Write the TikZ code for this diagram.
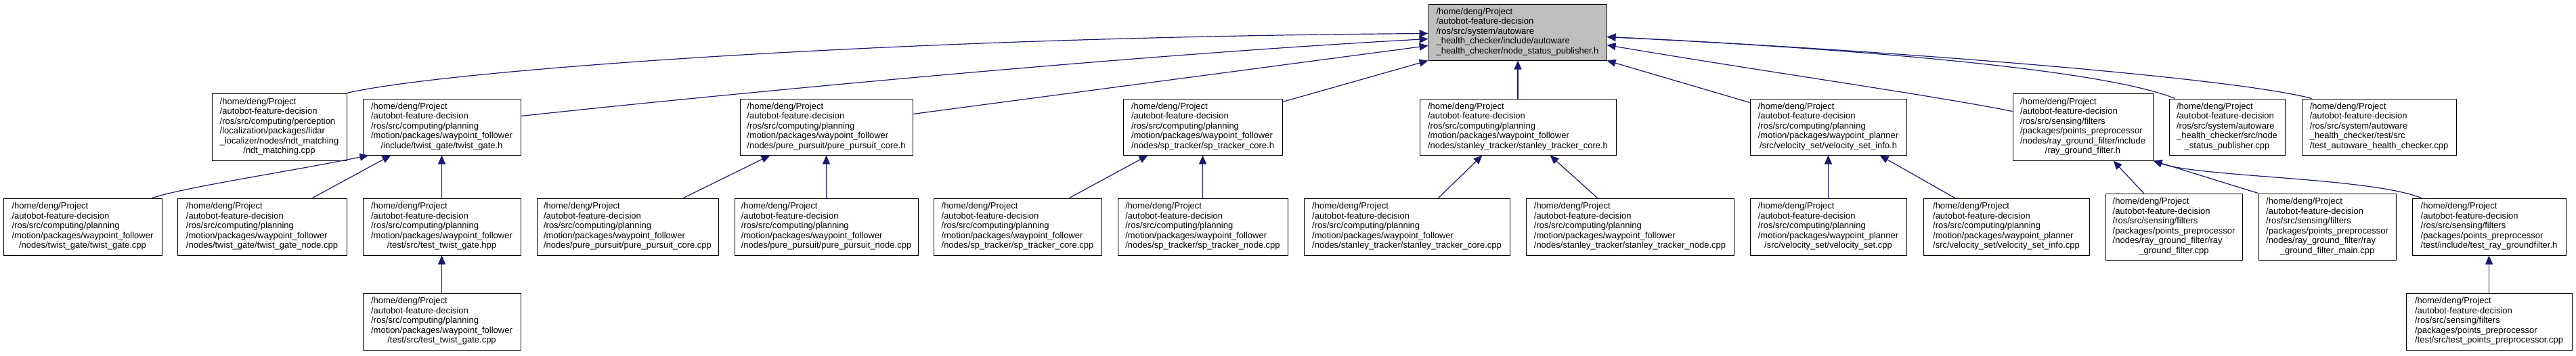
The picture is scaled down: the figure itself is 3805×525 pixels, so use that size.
\documentclass[tikz,border=0pt]{standalone}
\usepackage{fontspec}
\setmainfont{Liberation Sans}
\usetikzlibrary{arrows.meta,calc}
\definecolor{edgeblue}{RGB}{25,25,112}
\definecolor{rootgray}{RGB}{191,191,191}
\newcommand{\dl}[2]{\begin{tabular}{@{}l@{}}#1\\\multicolumn{1}{@{}c@{}}{#2}\end{tabular}}
\newcommand{\pwf}{/home/deng/Project\\/autobot-feature-decision\\/ros/src/computing/planning\\/motion/packages/waypoint\_follower}
\newcommand{\pwp}{/home/deng/Project\\/autobot-feature-decision\\/ros/src/computing/planning\\/motion/packages/waypoint\_planner}
\newcommand{\psf}{/home/deng/Project\\/autobot-feature-decision\\/ros/src/sensing/filters\\/packages/points\_preprocessor}
\newcommand{\psy}{/home/deng/Project\\/autobot-feature-decision\\/ros/src/system/autoware}
\begin{document}
\begin{tikzpicture}[x=1pt,y=-1pt,
  box/.style={draw=black, fill=white, line width=1pt, inner sep=0pt,
    font=\fontsize{13}{14.5}\selectfont},
  edge/.style={draw=edgeblue, line width=1.2pt, -{Triangle[length=13pt,width=11pt]}, edgeblue}]
\useasboundingbox (0,0) rectangle (3805,525);
% root
\node[box,fill=rootgray,minimum width=263pt,minimum height=83pt] (R) at (2241.5,47.5)
  {\dl{\psy\\\_health\_checker/include/autoware}{\_health\_checker/node\_status\_publisher.h}};
% level 2
\node[box,minimum width=199pt,minimum height=99pt] (A) at (412.5,187.5)
  {\dl{/home/deng/Project\\/autobot-feature-decision\\/ros/src/computing/perception\\/localization/packages/lidar\\\_localizer/nodes/ndt\_matching}{/ndt\_matching.cpp}};
\node[box,minimum width=233pt,minimum height=83pt] (B) at (652.5,187.5)
  {\dl{\pwf}{/include/twist\_gate/twist\_gate.h}};
\node[box,minimum width=255pt,minimum height=83pt] (C) at (1220.5,187.5)
  {\dl{\pwf}{/nodes/pure\_pursuit/pure\_pursuit\_core.h}};
\node[box,minimum width=235pt,minimum height=83pt] (D) at (1776.5,187.5)
  {\dl{\pwf}{/nodes/sp\_tracker/sp\_tracker\_core.h}};
\node[box,minimum width=290pt,minimum height=83pt] (E) at (2242,187.5)
  {\dl{\pwf}{/nodes/stanley\_tracker/stanley\_tracker\_core.h}};
\node[box,minimum width=231pt,minimum height=83pt] (F) at (2700.5,187.5)
  {\dl{\pwp}{/src/velocity\_set/velocity\_set\_info.h}};
\node[box,minimum width=207pt,minimum height=99pt] (G) at (3076.5,187.5)
  {\dl{\psf\\/nodes/ray\_ground\_filter/include}{/ray\_ground\_filter.h}};
\node[box,minimum width=171pt,minimum height=83pt] (H) at (3289.5,187.5)
  {\dl{\psy\\\_health\_checker/src/node}{\_status\_publisher.cpp}};
\node[box,minimum width=228pt,minimum height=83pt] (I) at (3514,187.5)
  {\dl{\psy\\\_health\_checker/test/src}{/test\_autoware\_health\_checker.cpp}};
% level 3
\node[box,minimum width=234pt,minimum height=84pt] (B1) at (122,335)
  {\dl{\pwf}{/nodes/twist\_gate/twist\_gate.cpp}};
\node[box,minimum width=250pt,minimum height=84pt] (B2) at (387,335)
  {\dl{\pwf}{/nodes/twist\_gate/twist\_gate\_node.cpp}};
\node[box,minimum width=233pt,minimum height=84pt] (B3) at (652.5,335)
  {\dl{\pwf}{/test/src/test\_twist\_gate.hpp}};
\node[box,minimum width=268pt,minimum height=84pt] (C1) at (927,335)
  {\dl{\pwf}{/nodes/pure\_pursuit/pure\_pursuit\_core.cpp}};
\node[box,minimum width=271pt,minimum height=84pt] (C2) at (1220.5,335)
  {\dl{\pwf}{/nodes/pure\_pursuit/pure\_pursuit\_node.cpp}};
\node[box,minimum width=248pt,minimum height=84pt] (D1) at (1503,335)
  {\dl{\pwf}{/nodes/sp\_tracker/sp\_tracker\_core.cpp}};
\node[box,minimum width=251pt,minimum height=84pt] (D2) at (1776.5,335)
  {\dl{\pwf}{/nodes/sp\_tracker/sp\_tracker\_node.cpp}};
\node[box,minimum width=304pt,minimum height=84pt] (E1) at (2078,335)
  {\dl{\pwf}{/nodes/stanley\_tracker/stanley\_tracker\_core.cpp}};
\node[box,minimum width=307pt,minimum height=84pt] (E2) at (2407.5,335)
  {\dl{\pwf}{/nodes/stanley\_tracker/stanley\_tracker\_node.cpp}};
\node[box,minimum width=231pt,minimum height=84pt] (F1) at (2700.5,335)
  {\dl{\pwp}{/src/velocity\_set/velocity\_set.cpp}};
\node[box,minimum width=245pt,minimum height=84pt] (F2) at (2963.5,335)
  {\dl{\pwp}{/src/velocity\_set/velocity\_set\_info.cpp}};
\node[box,minimum width=202pt,minimum height=98pt] (G1) at (3211,335)
  {\dl{\psf\\/nodes/ray\_ground\_filter/ray}{\_ground\_filter.cpp}};
\node[box,minimum width=203pt,minimum height=98pt] (G2) at (3437.5,335)
  {\dl{\psf\\/nodes/ray\_ground\_filter/ray}{\_ground\_filter\_main.cpp}};
\node[box,minimum width=227pt,minimum height=84pt] (G3) at (3676.5,335)
  {\dl{\psf}{/test/include/test\_ray\_groundfilter.h}};
% level 4
\node[box,minimum width=233pt,minimum height=84pt] (B4) at (652.5,475)
  {\dl{\pwf}{/test/src/test\_twist\_gate.cpp}};
\node[box,minimum width=245pt,minimum height=84pt] (G4) at (3676.5,475)
  {\dl{\psf}{/test/src/test\_points\_preprocessor.cpp}};
% edges to root
\draw[edge] (A.north east) .. controls (650,105) and (1300,55) .. ($(R.north west)+(0,44)$);
\draw[edge] ($(B.north east)+(0,26)$) .. controls (900,157) and (1600,85) .. ($(R.north west)+(0,52)$);
\draw[edge] ($(C.north east)+(0,23)$) -- ($(R.north west)+(0,62)$);
\draw[edge] ($(D.north east)+(0,5)$) -- (R.south west);
\draw[edge] (E.north) -- (E.north |- R.south);
\draw[edge] ($(F.north west)+(0,6)$) -- (R.south east);
\draw[edge] ($(G.north west)+(0,27)$) .. controls (2850,140) and (2600,105) .. ($(R.north east)+(0,61)$);
\draw[edge] ($(H.north west)+(9,0)$) .. controls (3100,100) and (2700,70) .. ($(R.north east)+(0,49)$);
\draw[edge] ($(I.north west)+(15,0)$) .. controls (3300,115) and (2800,75) .. ($(R.north east)+(0,49)$);
% level 3 -> level 2
\draw[edge] ($(B1.north west)+(220,0)$) .. controls (280,275) and (420,255) .. ($(B.south west)+(9,0)$);
\draw[edge] ($(B2.north west)+(200,0)$) -- ($(B.south west)+(42,0)$);
\draw[edge] (B3.north) -- (B.south);
\draw[edge] (B4.north) -- (B3.south);
\draw[edge] ($(C1.north west)+(217,0)$) -- ($(C.south west)+(45,0)$);
\draw[edge] (C2.north) -- (C.south);
\draw[edge] ($(D1.north west)+(201,0)$) -- ($(D.south west)+(37,0)$);
\draw[edge] (D2.north) -- (D.south);
\draw[edge] ($(E1.north west)+(199,0)$) -- ($(E.south west)+(93,0)$);
\draw[edge] ($(E2.north west)+(106,0)$) -- ($(E.south west)+(193,0)$);
\draw[edge] (F1.north) -- (F.south);
\draw[edge] ($(F2.north west)+(47,0)$) -- ($(F.south west)+(192,0)$);
\draw[edge] ($(G1.north west)+(57,0)$) -- ($(G.south west)+(149,0)$);
\draw[edge] (G2.north west) -- (G.south east);
\draw[edge] ($(G3.north west)+(14,0)$) .. controls (3500,262) and (3250,262) .. (G.south east);
\draw[edge] (G4.north) -- (G3.south);
\end{tikzpicture}
\end{document}
